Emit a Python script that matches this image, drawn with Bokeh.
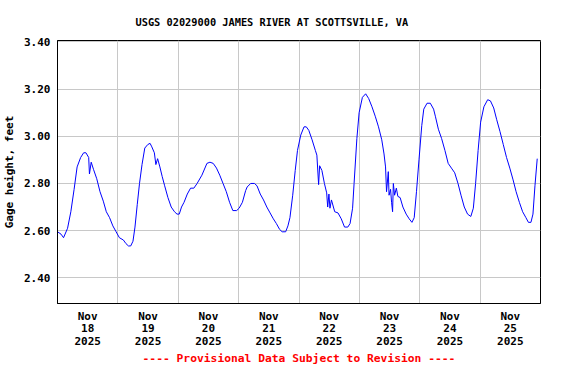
from bokeh.plotting import figure
from bokeh.models import FixedTicker, Range1d, Title
from bokeh.embed import file_html
from bokeh.resources import INLINE

# hours since 2025-11-18 00:00
hours = [0.0, 1.4, 2.4, 4.0, 5.3, 6.6, 7.8, 9.2, 10.4, 11.3, 12.4, 12.7, 13.4, 14.3, 15.6, 16.9,
         18.2, 19.4, 20.7, 22.0, 23.3, 24.6, 26.2, 27.2, 28.2, 29.1, 30.0, 30.8, 31.7, 32.6, 33.6,
         34.7, 35.9, 36.8, 37.5, 38.5, 39.1, 39.8, 40.7, 41.6, 42.6, 43.9, 45.2, 46.5, 47.5, 48.4,
         49.3, 50.3, 51.6, 52.9, 54.2, 55.5, 57.4, 59.4, 60.6, 61.9, 63.2, 64.5, 65.8, 67.1, 68.4,
         69.7, 71.2, 72.2, 73.5, 74.8, 75.4, 76.8, 78.3, 79.3, 80.6, 81.9, 83.2, 84.5, 85.8, 87.0,
         88.3, 89.3, 90.7, 91.6, 92.4, 93.5, 94.5, 95.4, 96.7, 98.0, 98.9, 99.9, 101.2, 102.5,
         103.1, 103.8, 104.2, 105.1, 106.1, 107.0, 107.4, 107.9, 108.3, 108.9, 110.2, 111.5,
         112.8, 114.1, 115.4, 116.3, 117.3, 117.9, 119.0, 119.9, 121.2, 122.5, 123.7, 125.0,
         126.3, 127.6, 128.9, 129.8, 130.4, 130.8, 131.5, 131.8, 132.4, 132.8, 133.2, 133.5,
         134.0, 134.7, 135.3, 136.2, 137.3, 138.6, 139.8, 140.9, 141.8, 142.7, 143.7, 144.8,
         145.6, 146.9, 148.2, 149.5, 150.2, 151.4, 152.7, 154.0, 155.3, 156.6, 157.9, 159.2,
         160.4, 161.7, 163.0, 164.3, 165.3, 166.2, 167.2, 168.2, 169.5, 171.0, 172.1, 173.4,
         174.6, 175.9, 177.2, 178.5, 179.8, 181.1, 182.3, 183.6, 184.9, 186.2, 187.2, 188.2,
         189.0, 189.8, 190.7]
gage = [2.595, 2.585, 2.57, 2.61, 2.68, 2.775, 2.87, 2.91, 2.93, 2.93, 2.91, 2.84, 2.89, 2.86,
        2.82, 2.765, 2.725, 2.68, 2.655, 2.62, 2.595, 2.57, 2.56, 2.545, 2.535, 2.535, 2.555,
        2.615, 2.71, 2.80, 2.88, 2.95, 2.965, 2.97, 2.955, 2.93, 2.88, 2.905, 2.87, 2.83, 2.79,
        2.74, 2.70, 2.68, 2.67, 2.67, 2.70, 2.72, 2.755, 2.78, 2.78, 2.80, 2.835, 2.885, 2.89,
        2.885, 2.865, 2.835, 2.80, 2.765, 2.72, 2.685, 2.685, 2.695, 2.72, 2.77, 2.785, 2.80,
        2.80, 2.79, 2.755, 2.73, 2.70, 2.675, 2.65, 2.63, 2.605, 2.595, 2.595, 2.62, 2.655, 2.75,
        2.855, 2.94, 3.005, 3.04, 3.04, 3.025, 2.985, 2.94, 2.92, 2.795, 2.875, 2.855, 2.80,
        2.76, 2.70, 2.755, 2.695, 2.73, 2.68, 2.675, 2.65, 2.615, 2.615, 2.63, 2.695, 2.80,
        2.99, 3.10, 3.165, 3.18, 3.16, 3.125, 3.085, 3.04, 2.985, 2.925, 2.87, 2.765, 2.85,
        2.75, 2.775, 2.72, 2.68, 2.80, 2.75, 2.78, 2.745, 2.74, 2.70, 2.67, 2.65, 2.635, 2.655,
        2.765, 2.90, 3.045, 3.115, 3.14, 3.14, 3.115, 3.085, 3.03, 2.99, 2.94, 2.885, 2.865,
        2.845, 2.80, 2.75, 2.70, 2.67, 2.66, 2.695, 2.80, 2.94, 3.06, 3.125, 3.155, 3.15, 3.12,
        3.07, 3.02, 2.965, 2.91, 2.865, 2.815, 2.765, 2.72, 2.68, 2.655, 2.635, 2.635, 2.67,
        2.79, 2.905]

day_label_hours = [12, 36, 60, 84, 108, 132, 156, 180]
day_labels = ["Nov\n18\n2025", "Nov\n19\n2025", "Nov\n20\n2025", "Nov\n21\n2025",
              "Nov\n22\n2025", "Nov\n23\n2025", "Nov\n24\n2025", "Nov\n25\n2025"]
midnight_hours = [24, 48, 72, 96, 120, 144, 168]
y_ticks = [2.40, 2.60, 2.80, 3.00, 3.20, 3.40]
y_tick_labels = ["2.40", "2.60", "2.80", "3.00", "3.20", "3.40"]

FONT = "DejaVu Sans Mono"

p = figure(width=560, height=368, output_backend="svg", toolbar_location=None,
           x_range=Range1d(0, 192), y_range=Range1d(2.291, 3.406),
           min_border_left=56, min_border_right=20, min_border_top=38, min_border_bottom=65)

p.line(hours, gage, line_color="#0000ff", line_width=1)

p.outline_line_color = "black"
p.outline_line_width = 1

# axes
p.xaxis.ticker = FixedTicker(ticks=day_label_hours)
p.xaxis.major_label_overrides = {h: l for h, l in zip(day_label_hours, day_labels)}
p.yaxis.ticker = FixedTicker(ticks=y_ticks)
p.yaxis.major_label_overrides = {v: l for v, l in zip(y_ticks, y_tick_labels)}
for ax in (p.xaxis, p.yaxis):
    ax.major_tick_line_color = None
    ax.minor_tick_line_color = None
    ax.major_tick_in = 0
    ax.major_tick_out = 0
    ax.axis_line_color = "black"
    ax.major_label_text_font = FONT
    ax.major_label_text_font_style = "bold"
    ax.major_label_text_font_size = "11px"
    ax.major_label_text_color = "black"
    ax.axis_label_text_font = FONT
    ax.axis_label_text_font_style = "bold"
p.xaxis.major_label_text_line_height = 0.97
p.xaxis.major_label_standoff = 6
p.yaxis.major_label_standoff = 7
p.yaxis.axis_label = "Gage height, feet"
p.yaxis.axis_label_text_font_size = "11px"
p.yaxis.axis_label_text_color = "black"
p.yaxis.axis_label_standoff = 5
p.xaxis.axis_label = "---- Provisional Data Subject to Revision ----"
p.xaxis.axis_label_text_font_size = "11.3px"
p.xaxis.axis_label_text_color = "red"
p.xaxis.axis_label_standoff = 1

# grid
p.xgrid.ticker = FixedTicker(ticks=midnight_hours)
p.ygrid.ticker = FixedTicker(ticks=y_ticks)
p.xgrid.grid_line_color = "#c8c8c8"
p.ygrid.grid_line_color = "#c8c8c8"

# title
t = Title(text="USGS 02029000 JAMES RIVER AT SCOTTSVILLE, VA", align="left", offset=78,
          text_font=FONT, text_font_style="bold", text_font_size="10.3px", text_color="black",
          standoff=26)
p.add_layout(t, "above")

open("out.html", "w").write(file_html(p, INLINE))
